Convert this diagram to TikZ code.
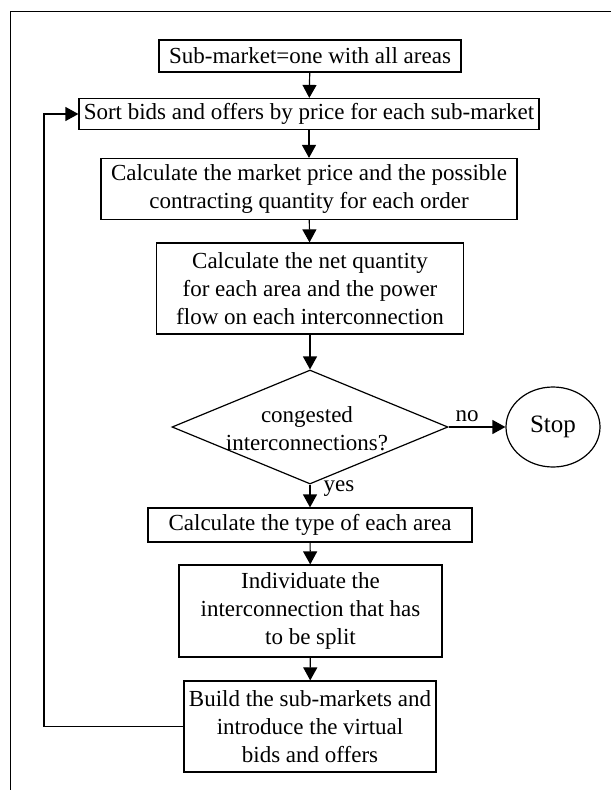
\documentclass[tikz,border=0pt]{standalone}
\usepackage{fontspec}
\setmainfont{Liberation Serif}
\usetikzlibrary{arrows.meta,shapes.geometric}
\begin{document}
\begin{tikzpicture}[x=1pt,y=-1pt,
  txt/.style={font=\fontsize{23}{28}\selectfont, align=center},
  proc/.style={txt, draw, line width=1.2pt, rectangle, inner sep=0pt},
  flow/.style={line width=1.2pt, -{Triangle[length=13pt,width=14pt]}},
  frameline/.style={line width=1.4pt}]
  \useasboundingbox (0,0) rectangle (611,790);

  % outer frame (top and left sides only)
  \draw[frameline] (611,11.5) -- (10.5,11.5) -- (10.5,790);

  % process boxes
  \node[proc, minimum width=302pt, minimum height=32pt] (b1) at (310,56)
    {Sub-market=one with all areas};
  \node[proc, minimum width=460pt, minimum height=31pt] (b2) at (309,114)
    {Sort bids and offers by price for each sub-market};
  \node[proc, minimum width=416pt, minimum height=61pt] (b3) at (309,189)
    {Calculate the market price and the possible\\contracting quantity for each order};
  \node[proc, minimum width=307pt, minimum height=91pt] (b4) at (310,288.5)
    {Calculate the net quantity\\for each area and the power\\flow on each interconnection};

  % decision
  \node[draw, diamond, line width=1.2pt, minimum width=276pt, minimum height=114pt,
        inner sep=0pt] (d) at (310,427) {};
  \node[txt] (dtext) at (307,429) {congested\\interconnections?};
  \node[draw, ellipse, line width=1.2pt, minimum width=94pt, minimum height=80pt,
        inner sep=0pt, font=\fontsize{25}{30}\selectfont] (stop) at (553,427) {Stop};

  \node[proc, minimum width=324pt, minimum height=34pt] (b5) at (310,525)
    {Calculate the type of each area};
  \node[proc, minimum width=263pt, minimum height=92pt] (b6) at (310.5,611)
    {Individuate the\\interconnection that has\\to be split};
  \node[proc, minimum width=252pt, minimum height=91pt] (b7) at (310,726.5)
    {Build the sub-markets and\\introduce the virtual\\bids and offers};

  % branch labels
  \node[txt] (lno) at (467,416) {no};
  \node[txt] (lyes) at (339,489) {yes};

  % connectors
  \draw[flow] (b1) -- (b2);
  \draw[flow] (b2) -- (b3);
  \draw[flow] (b3) -- (b4);
  \draw[flow] (b4) -- (d.north);
  \draw[flow] (d.east) -- (stop.west);
  \draw[flow] (d.south) -- (b5);
  \draw[flow] (b5) -- (b6);
  \draw[flow] (b6) -- (b7);

  % feedback loop back to sorting
  \coordinate (loopc) at (44,114);
  \draw[flow] (b7.west) -| (loopc) -- (b2.west);
\end{tikzpicture}
\end{document}
